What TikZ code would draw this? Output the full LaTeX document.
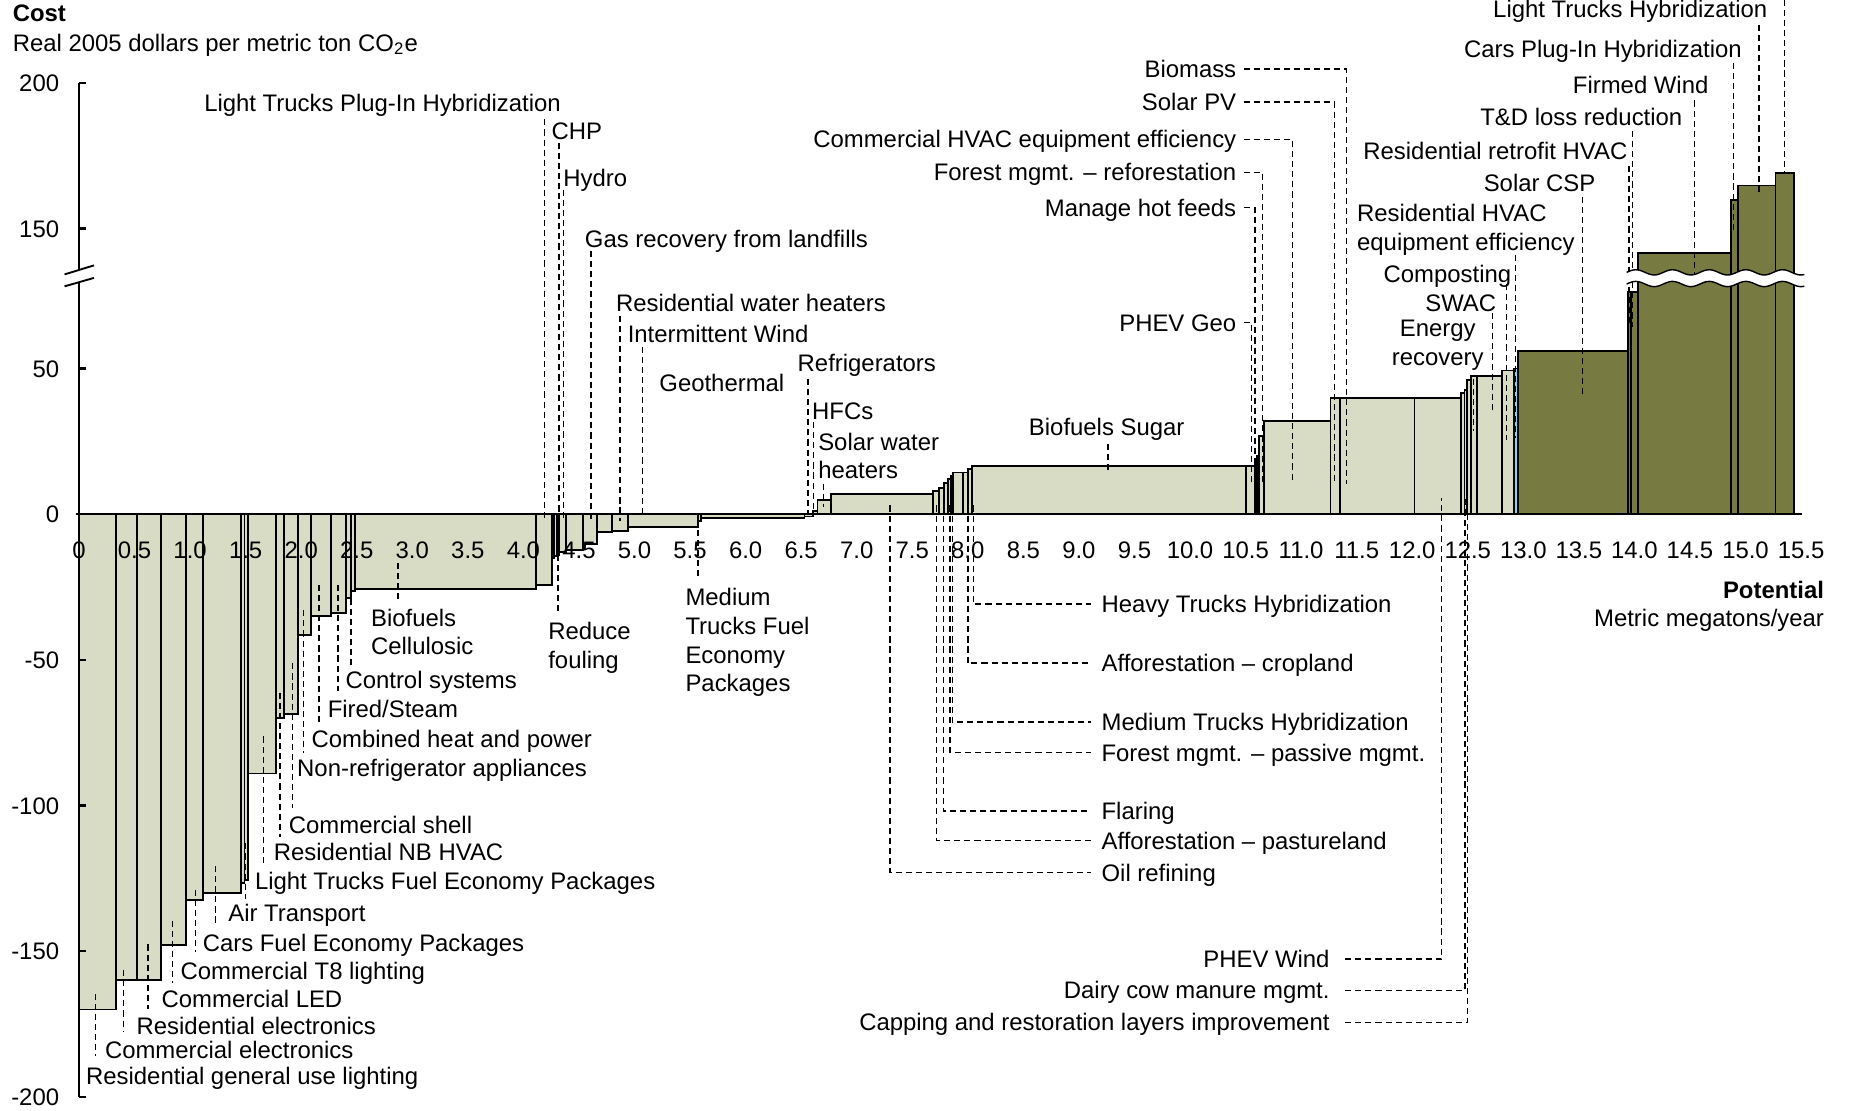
\documentclass[tikz,border=0pt]{standalone}
\usepackage{fontspec}
\setmainfont{Liberation Sans}
\definecolor{barlight}{HTML}{D9DCC5}
\definecolor{barolive}{HTML}{777A41}
\definecolor{barcyan}{HTML}{8AD6E8}
\newcommand{\chartfont}{\fontsize{10.2}{12.3}\selectfont}

\begin{document}
\begin{tikzpicture}[
        x=1.6665cm, y=0.043695cm,
        lbl/.style={inner sep=0pt, font=\chartfont, text height=7.3pt, text depth=0pt},
        mlbl/.style={inner sep=0pt, font=\chartfont, align=left},
        axisline/.style={line width=1.1pt},
        lowbar/.style={draw, line width=0.8pt, fill=barlight},
        highbar/.style={draw, line width=0.8pt, fill=barolive},
        leader/.style={line width=0.6pt, dash pattern=on 2.6pt off 1.7pt}
    ]
    \useasboundingbox (-0.7111,-204.57) rectangle (15.9316,176.49);

    % bars: start/end/height (values above the break are shifted down by 52)
    \foreach \a/\b/\c in {0/0.33/-170, 0.33/0.52/-160, 0.52/0.74/-160, 0.74/0.965/-148,
            0.965/1.12/-132.5, 1.12/1.457/-130, 1.457/1.49/-126.5, 1.49/1.52/-125.5,
            1.52/1.777/-89, 1.777/1.847/-70, 1.847/1.97/-68.5, 1.97/2.085/-41.6,
            2.085/2.266/-35, 2.266/2.40/-34, 2.40/2.45/-28.7, 2.45/2.484/-26.5,
            2.484/4.114/-25.6, 4.114/4.255/-24.3, 4.255/4.276/-15, 4.276/4.30/-14.5,
            4.30/4.324/-14, 4.324/4.383/-13, 4.383/4.533/-12.4, 4.533/4.66/-10.3,
            4.66/4.80/-6.1, 4.80/4.94/-5.8, 4.94/5.57/-4.3, 5.57/5.60/-2.4,
            5.60/6.53/-1.4, 6.53/6.61/-0.8, 6.61/6.647/1, 6.647/6.767/5,
            6.767/7.684/6.8, 7.684/7.744/8, 7.744/7.789/9.1, 7.789/7.825/10.8,
            7.825/7.849/12, 7.849/7.87/13, 7.87/7.954/14.3, 7.954/8.005/14.3,
            8.005/8.035/15.4, 8.035/10.504/16.6, 10.504/10.585/16.6, 10.585/10.606/18,
            10.606/10.621/20, 10.621/10.666/26.8, 10.666/11.264/32, 11.264/11.35/40,
            11.35/12.02/40, 12.02/12.44/40, 12.44/12.47/41.5, 12.47/12.49/42.5,
            12.49/12.53/46, 12.53/12.58/47.3, 12.58/12.81/47.3, 12.81/12.92/49.3}
        \draw[lowbar] (\a,0) rectangle (\b,\c);
    \draw[lowbar, fill=barcyan] (12.92,0) rectangle (12.95,50);
    \foreach \a/\b/\c in {12.95/13.94/56, 13.94/13.97/76.3, 13.97/14.03/76.3,
            14.03/14.87/89.6, 14.87/14.93/107.8, 14.93/15.27/112.8, 15.27/15.44/117.2}
        \draw[highbar] (\a,0) rectangle (\b,\c);

    % axes
    \draw[axisline] (-0.03,0) -- (15.51,0);
    \draw[axisline] (0,148) -- (0,83.8);
    \draw[axisline] (0,79.6) -- (0,-200);
    \draw[line width=0.8pt] (-0.13,82.3) -- (0.135,85.4);
    \draw[line width=0.8pt] (-0.13,78.2) -- (0.135,81.1);
    \foreach \d/\t [count=\i] in {148/200, 98/150, 50/50, 0/0, -50/-50, -100/-100, -150/-150, -200/-200} {
        \draw[axisline] (0,\d) -- (0.065,\d);
        \node[lbl, anchor=east] (ytick\i) at (-0.175,\d) {\t};
    }
    \foreach \x/\t [count=\i] in {0/0, 0.5/0.5, 1/1.0, 1.5/1.5, 2/2.0, 2.5/2.5, 3/3.0, 3.5/3.5,
            4/4.0, 4.5/4.5, 5/5.0, 5.5/5.5, 6/6.0, 6.5/6.5, 7/7.0, 7.5/7.5, 8/8.0, 8.5/8.5,
            9/9.0, 9.5/9.5, 10/10.0, 10.5/10.5, 11/11.0, 11.5/11.5, 12/12.0, 12.5/12.5,
            13/13.0, 13.5/13.5, 14/14.0, 14.5/14.5, 15/15.0, 15.5/15.5}
        \node[lbl] (xtick\i) at (\x,-12.2) {\t};

    \node[lbl, anchor=west] (cost) at (-0.60,172) {\textbf{Cost}};
    \node[lbl, anchor=west] (costunit) at (-0.60,161.8) {Real 2005 dollars per metric ton CO\textsubscript{2}e};
    \node[lbl, anchor=east] (pot) at (15.71,-25.9) {\textbf{Potential}};
    \node[lbl, anchor=east] (potunit) at (15.71,-35.5) {Metric megatons/year};

    % labels below the negative bars
    \node[lbl, anchor=west] (rgul) at (0.06,-192.8) {Residential general use lighting};
    \node[lbl, anchor=west] (celec) at (0.23,-184) {Commercial electronics};
    \node[lbl, anchor=west] (relec) at (0.515,-175.8) {Residential electronics};
    \node[lbl, anchor=west] (cled) at (0.74,-166.5) {Commercial LED};
    \node[lbl, anchor=west] (ct8) at (0.91,-156.8) {Commercial T8 lighting};
    \node[lbl, anchor=west] (cfe) at (1.11,-147.2) {Cars Fuel Economy Packages};
    \node[lbl, anchor=west] (air) at (1.34,-137) {Air Transport};
    \node[lbl, anchor=west] (ltfe) at (1.58,-126) {Light Trucks Fuel Economy Packages};
    \node[lbl, anchor=west] (rnb) at (1.75,-116) {Residential NB HVAC};
    \node[lbl, anchor=west] (cshell) at (1.885,-106.7) {Commercial shell};
    \node[lbl, anchor=west] (nonref) at (1.96,-87.2) {Non-refrigerator appliances};
    \node[lbl, anchor=west] (cheat) at (2.09,-77) {Combined heat and power};
    \node[lbl, anchor=west] (fired) at (2.235,-66.7) {Fired/Steam};
    \node[lbl, anchor=west] (ctrl) at (2.395,-57) {Control systems};
    \node[mlbl, anchor=north west] (biocell) at (2.625,-32.3) {Biofuels\\Cellulosic};
    \node[mlbl, anchor=north west] (fouling) at (4.22,-37) {Reduce\\fouling};
    \node[mlbl, anchor=north west] (mtfe) at (5.455,-25.2) {Medium\\Trucks Fuel\\Economy\\Packages};

    \foreach \x/\a/\b in {0.15/-164.7/-185.9, 0.40/-156.5/-177.8, 0.62/-147.7/-169.7,
            0.84/-139.6/-160.9, 1.05/-129/-150.3, 1.23/-120.8/-141.5, 1.50/-113/-132,
            1.66/-76.3/-120.8, 1.81/-61.3/-110.8, 1.92/-51.2/-100.7, 2.02/-33/-82,
            2.16/-24.3/-71.9, 2.33/-24.3/-60.6, 2.45/-25.6/-51.9, 2.87/-16.8/-29.3,
            4.31/-14/-34.7, 5.57/-2/-22}
        \draw[leader] (\x,\a) -- (\x,\b);

    % labels above the small bars
    \node[lbl, anchor=east] (ltpih) at (4.34,141) {Light Trucks Plug-In Hybridization};
    \node[lbl, anchor=west] (chp) at (4.25,131.7) {CHP};
    \node[lbl, anchor=west] (hydro) at (4.355,115.5) {Hydro};
    \node[lbl, anchor=west] (gas) at (4.55,94.6) {Gas recovery from landfills};
    \node[lbl, anchor=west] (rwh) at (4.83,72.6) {Residential water heaters};
    \node[lbl, anchor=west] (iwind) at (4.935,61.7) {Intermittent Wind};
    \node[lbl, anchor=west] (geo) at (5.22,45.1) {Geothermal};
    \node[lbl, anchor=west] (refr) at (6.465,51.9) {Refrigerators};
    \node[lbl, anchor=west] (hfc) at (6.595,35.5) {HFCs};
    \node[mlbl, anchor=north west] (swh) at (6.65,28.1) {Solar water\\heaters};
    \node[lbl] (biosug) at (9.25,30) {Biofuels Sugar};

    \foreach \x/\a/\b in {4.19/135.5/-2.5, 4.32/127.5/-2.5, 4.36/111.4/-2.5, 4.61/90.3/-3,
            4.87/68/-2.5, 5.07/57.5/-0.6, 6.56/46.4/0, 6.61/31.6/0, 6.70/10.5/2.5,
            9.26/24.1/14.2}
        \draw[leader] (\x,\a) -- (\x,\b);

    % labels with bent leaders
    \node[lbl, anchor=west] (htruck) at (9.20,-30.9) {Heavy Trucks Hybridization};
    \node[lbl, anchor=west] (affcrop) at (9.20,-51.1) {Afforestation -- cropland};
    \node[lbl, anchor=west] (mthyb) at (9.20,-71.4) {Medium Trucks Hybridization};
    \node[lbl, anchor=west] (fpass) at (9.20,-81.8) {Forest mgmt. -- passive mgmt.};
    \node[lbl, anchor=west] (flar) at (9.20,-101.9) {Flaring};
    \node[lbl, anchor=west] (affpast) at (9.20,-112) {Afforestation -- pastureland};
    \node[lbl, anchor=west] (oil) at (9.20,-123) {Oil refining};
    \foreach \x/\n in {8.05/htruck, 8.0/affcrop, 7.86/mthyb, 7.84/fpass, 7.78/flar,
            7.72/affpast, 7.30/oil}
        \draw[leader] (\x,3) |- ([xshift=-4.5pt]\n.west);

    \node[lbl, anchor=east] (phevw) at (11.26,-152.7) {PHEV Wind};
    \node[lbl, anchor=east] (dairy) at (11.26,-163.4) {Dairy cow manure mgmt.};
    \node[lbl, anchor=east] (capping) at (11.26,-174.4) {Capping and restoration layers improvement};
    \foreach \x/\n in {12.265/phevw, 12.475/dairy, 12.50/capping}
        \draw[leader] ([xshift=6.5pt]\n.east) -| (\x,5.6);

    \node[lbl, anchor=east] (biomass) at (10.42,152.8) {Biomass};
    \node[lbl, anchor=east] (solarpv) at (10.42,141.5) {Solar PV};
    \node[lbl, anchor=east] (chvac) at (10.42,128.7) {Commercial HVAC equipment efficiency};
    \node[lbl, anchor=east] (freforest) at (10.42,117.3) {Forest mgmt. -- reforestation};
    \node[lbl, anchor=east] (hotfeed) at (10.42,105.2) {Manage hot feeds};
    \node[lbl, anchor=east] (phevgeo) at (10.42,65.7) {PHEV Geo};
    \foreach \x/\n in {11.41/biomass, 11.30/solarpv, 10.92/chvac, 10.655/freforest,
            10.585/hotfeed, 10.555/phevgeo}
        \draw[leader] ([xshift=3pt]\n.east) -| (\x,10.5);

    % labels of the costly levers
    \node[lbl, anchor=east] (lthyb) at (15.20,173.5) {Light Trucks Hybridization};
    \node[lbl, anchor=east] (carpih) at (14.97,159.8) {Cars Plug-In Hybridization};
    \node[lbl, anchor=east] (fwind) at (14.67,147.2) {Firmed Wind};
    \node[lbl, anchor=east] (tdloss) at (14.435,136.2) {T\&D loss reduction};
    \node[lbl, anchor=east] (rretro) at (13.94,124.6) {Residential retrofit HVAC};
    \node[lbl, anchor=west] (csp) at (12.64,113.8) {Solar CSP};
    \node[mlbl, anchor=north west] (rhvac) at (11.5,106.6) {Residential HVAC\\equipment efficiency};
    \node[lbl, anchor=east] (compost) at (12.895,82.3) {Composting};
    \node[lbl, anchor=east] (swac) at (12.76,72.5) {SWAC};
    \node[mlbl, align=center, anchor=north] (energy) at (12.23,66.8) {Energy\\recovery};

    \foreach \x/\a/\b in {15.35/176.5/117.2, 15.12/168/110.4, 14.89/155/97.5,
            14.54/142/81, 13.95/119.5/64.4, 13.985/131.5/64.4, 13.53/109/41.3,
            12.93/89/26, 12.85/79/25.3, 12.72/69/34.7, 12.55/46.4/28.5}
        \draw[leader] (\x,\a) -- (\x,\b);

    % break of the scale across the last bars
    \fill[white] plot[domain=13.93:15.53, samples=80] (\x,{83+0.9*sin((\x-13.93)*1090)})
        -- plot[domain=15.53:13.93, samples=80] (\x,{79+0.9*sin((\x-13.93)*1090)}) -- cycle;
    \draw[line width=0.6pt] plot[domain=13.93:15.53, samples=80] (\x,{83+0.9*sin((\x-13.93)*1090)});
    \draw[line width=0.6pt] plot[domain=13.93:15.53, samples=80] (\x,{79+0.9*sin((\x-13.93)*1090)});
\end{tikzpicture}
\end{document}
